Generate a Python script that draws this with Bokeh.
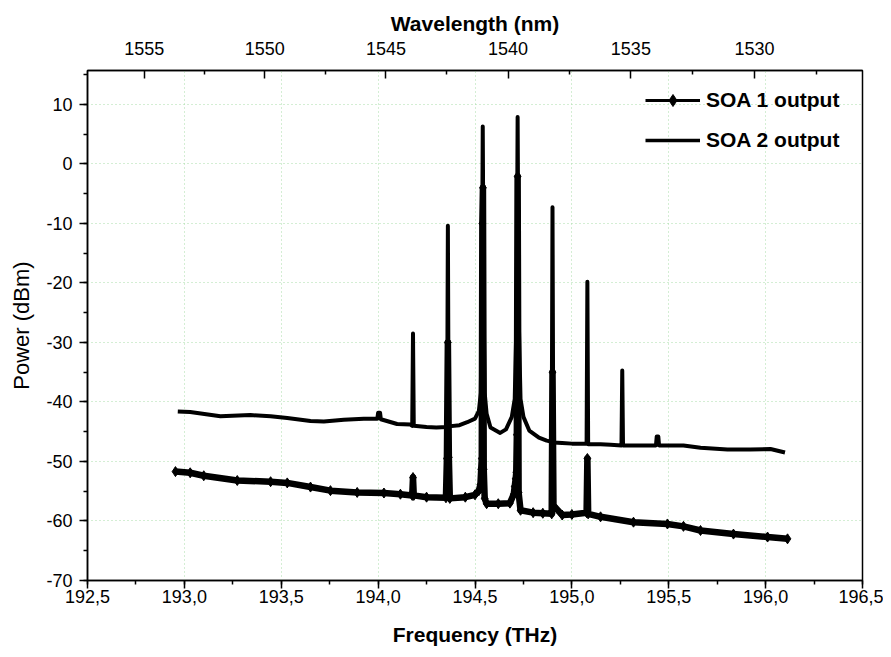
from bokeh.plotting import figure
from bokeh.models import (Range1d, LinearAxis, FixedTicker, SingleIntervalTicker,
                          CustomJSTickFormatter, Legend, LegendItem)
from bokeh.embed import file_html
from bokeh.resources import INLINE

# ---------------- data ----------------
soa2_freq = [192.966, 193.03, 193.186, 193.341, 193.445, 193.531, 193.651, 193.72,
             193.823, 193.926, 193.996, 194.0, 194.01, 194.014, 194.098, 194.167,
             194.176, 194.18, 194.184, 194.25, 194.30, 194.356, 194.36, 194.364,
             194.42, 194.46, 194.50, 194.52, 194.53, 194.535, 194.54, 194.545,
             194.55, 194.56, 194.58, 194.63, 194.66, 194.69, 194.705, 194.715,
             194.72, 194.725, 194.735, 194.75, 194.78, 194.83, 194.87, 194.896,
             194.90, 194.904, 194.95, 195.00, 195.076, 195.08, 195.084, 195.148,
             195.20, 195.256, 195.26, 195.264, 195.318, 195.434, 195.438, 195.446,
             195.45, 195.576, 195.664, 195.803, 195.92, 196.025, 196.10]
soa2_power = [-41.6, -41.7, -42.4, -42.2, -42.4, -42.7, -43.2, -43.3,
              -43.0, -42.8, -42.8, -41.8, -41.8, -42.9, -43.7, -43.8,
              -44.0, -28.5, -44.0, -44.2, -44.3, -44.2, -10.4, -44.1,
              -43.9, -43.4, -42.8, -41.5, -38.5, -25.0, 6.3, -25.0,
              -38.5, -42.0, -44.3, -45.2, -44.6, -42.5, -39.5, -25.0,
              7.9, -25.0, -39.5, -42.5, -44.8, -46.0, -46.5, -46.7,
              -7.3, -46.8, -46.9, -47.0, -47.0, -19.8, -47.1, -47.1,
              -47.2, -47.3, -34.7, -47.3, -47.3, -47.3, -45.8, -45.8,
              -47.3, -47.3, -47.7, -48.0, -48.0, -47.9, -48.5]

soa1_freq = [192.954, 193.03, 193.10, 193.273, 193.445, 193.531, 193.651, 193.754,
             193.892, 194.03, 194.115, 194.176, 194.18, 194.184, 194.25, 194.35,
             194.355, 194.36, 194.365, 194.37, 194.45, 194.50, 194.52, 194.528,
             194.532, 194.535, 194.538, 194.541, 194.545, 194.55, 194.56, 194.62,
             194.68, 194.70, 194.705, 194.71, 194.713, 194.716, 194.72, 194.725,
             194.735, 194.80, 194.85, 194.896, 194.90, 194.905, 194.95, 195.00,
             195.076, 195.08, 195.084, 195.148, 195.318, 195.493, 195.576, 195.664,
             195.834, 196.01, 196.113]
soa1_power = [-51.7, -51.9, -52.4, -53.2, -53.4, -53.6, -54.3, -54.9,
              -55.2, -55.3, -55.5, -55.7, -52.7, -55.7, -56.0, -56.1,
              -49.5, -30.0, -49.3, -56.2, -56.0, -55.6, -54.9, -53.9,
              -51.3, -49.5, -10.0, -4.0, -51.3, -56.2, -57.1, -57.1,
              -57.0, -55.5, -54.2, -52.9, -51.8, -45.5, -2.1, -55.2,
              -58.2, -58.6, -58.7, -58.8, -35.0, -57.4, -59.0, -58.9,
              -58.6, -49.5, -58.8, -59.3, -60.2, -60.5, -60.9, -61.6,
              -62.2, -62.7, -63.0]

freq_ticks_interval = 0.5
power_ticks_interval = 10
wavelength_ticks = [1555, 1550, 1545, 1540, 1535, 1530]
wavelength_minor = [1552.5, 1547.5, 1542.5, 1537.5, 1532.5, 1527.5]
C_NM_THZ = 299792.458

series_labels = ["SOA 1 output", "SOA 2 output"]

# ---------------- figure ----------------
FONT = "Liberation Sans"
GRID_COLOR = "#a8dca8"
NAN = float("nan")

p = figure(width=883, height=655, output_backend="svg", toolbar_location=None,
           x_range=Range1d(192.5, 196.5), y_range=Range1d(-70, 15.7),
           min_border_left=87, min_border_right=21, min_border_top=70,
           min_border_bottom=75, x_axis_location="below")
p.outline_line_color = "black"
p.outline_line_width = 1.5
p.background_fill_color = "white"
p.border_fill_color = "white"

# bottom axis
xa = p.xaxis[0]
xa.ticker = SingleIntervalTicker(interval=freq_ticks_interval, num_minor_ticks=2)
xa.formatter = CustomJSTickFormatter(code="return tick.toFixed(1).replace('.', ',')")
xa.axis_label = "Frequency (THz)"
# left axis
ya = p.yaxis[0]
ya.ticker = SingleIntervalTicker(interval=power_ticks_interval, num_minor_ticks=2)
ya.formatter = CustomJSTickFormatter(code="return tick.toFixed(0)")
ya.axis_label = "Power (dBm)"

# top axis (wavelength)
top = LinearAxis(
    ticker=FixedTicker(ticks=[C_NM_THZ / w for w in wavelength_ticks],
                       minor_ticks=[C_NM_THZ / w for w in wavelength_minor]),
    formatter=CustomJSTickFormatter(code="return (299792.458 / tick).toFixed(0)"),
    axis_label="Wavelength (nm)")
p.add_layout(top, "above")

for ax in (xa, ya, top):
    ax.axis_line_color = "black"
    ax.axis_line_width = 1.5
    ax.major_tick_line_color = "black"
    ax.minor_tick_line_color = "black"
    ax.major_tick_line_width = 1.5
    ax.minor_tick_line_width = 1.5
    ax.major_label_text_font = FONT
    ax.major_label_text_font_size = "18px"
    ax.major_label_text_color = "black"
    ax.axis_label_text_color = "black"

for ax in (xa, ya):
    ax.major_tick_out = 8
    ax.major_tick_in = 0
    ax.minor_tick_out = 4
    ax.minor_tick_in = 0

top.major_tick_out = 0
top.major_tick_in = 8
top.minor_tick_out = 0
top.minor_tick_in = 4

xa.axis_label_text_font = FONT
xa.axis_label_text_font_style = "bold"
xa.axis_label_text_font_size = "21px"
xa.major_label_standoff = 1
xa.axis_label_standoff = 17
top.axis_label_text_font = FONT
top.axis_label_text_font_style = "bold"
top.axis_label_text_font_size = "21px"
top.major_label_standoff = 16
top.axis_label_standoff = 4
ya.axis_label_text_font = FONT
ya.axis_label_text_font_style = "normal"
ya.axis_label_text_font_size = "22px"
ya.major_label_standoff = 7
ya.axis_label_standoff = 9

p.xgrid.grid_line_color = GRID_COLOR
p.xgrid.grid_line_dash = "1 3"
p.ygrid.grid_line_color = GRID_COLOR
p.ygrid.grid_line_dash = "1 3"

# ---------------- data glyphs ----------------
r2 = p.line(soa2_freq, soa2_power, line_color="black", line_width=4, line_join="round")
r1 = p.line(soa1_freq, soa1_power, line_color="black", line_width=6.5, line_join="round")
p.scatter(soa1_freq, soa1_power, marker="diamond", size=10, color="black")

# legend proxies (not drawn in the plot area: NaN positions)
leg_line = p.line([NAN, NAN], [NAN, NAN], line_color="black", line_width=3)
leg_diam = p.scatter([NAN], [NAN], marker="diamond", size=9, color="black")
leg_line2 = p.line([NAN, NAN], [NAN, NAN], line_color="black", line_width=3.5)

legend = Legend(items=[LegendItem(label=series_labels[0], renderers=[leg_line, leg_diam]),
                       LegendItem(label=series_labels[1], renderers=[leg_line2])],
                location=(558, 425), border_line_color=None, background_fill_alpha=0,
                padding=0, margin=0, spacing=10, glyph_width=55, glyph_height=30,
                label_height=30, label_standoff=6,
                label_text_font=FONT, label_text_font_style="bold",
                label_text_color="black", label_text_font_size="21px")
p.add_layout(legend, "center")

open("out.html", "w").write(file_html(p, INLINE))
